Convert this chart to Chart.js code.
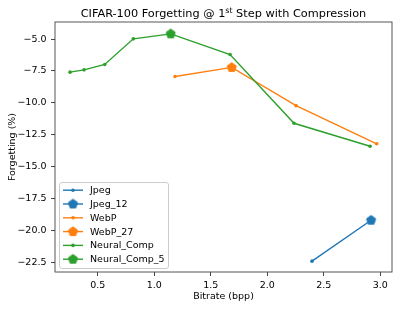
<!DOCTYPE html>
<html>
<head>
<meta charset="utf-8">
<script src="https://cdn.jsdelivr.net/npm/chart.js@4/dist/chart.umd.min.js"></script>
<style>
  html, body { margin: 0; padding: 0; background: #fff; }
  #c { display: block; }
</style>
</head>
<body>
<canvas id="c" width="399" height="309"></canvas>
<script>
// ---- data ----
const titleMain = "CIFAR-100 Forgetting @ 1";
const titleSup = "st";
const titleRest = " Step with Compression";
const xAxisLabel = "Bitrate (bpp)";
const yAxisLabel = "Forgetting (%)";

const seriesLabels = ["Jpeg", "Jpeg_12", "WebP", "WebP_27", "Neural_Comp", "Neural_Comp_5"];

const jpegX = [2.396, 2.919];
const jpegY = [-22.41, -19.20];
const jpeg12X = [2.919];
const jpeg12Y = [-19.20];

const webpX = [1.184, 1.686, 2.255, 2.969];
const webpY = [-7.93, -7.22, -10.22, -13.21];
const webp27X = [1.686];
const webp27Y = [-7.22];

const neuralX = [0.255, 0.379, 0.562, 0.815, 1.146, 1.671, 2.237, 2.910];
const neuralY = [-7.59, -7.41, -6.99, -4.98, -4.59, -6.21, -11.60, -13.40];
const neural5X = [1.146];
const neural5Y = [-4.59];

const xTicks = [0.5, 1.0, 1.5, 2.0, 2.5, 3.0];
const yTicks = [-5.0, -7.5, -10.0, -12.5, -15.0, -17.5, -20.0, -22.5];

// ---- styling ----
const FONT = "'DejaVu Sans', sans-serif";
const BLUE = "#1f77b4", ORANGE = "#ff7f0e", GREEN = "#2ca02c";

function pentagon(color, r) {
  const size = Math.ceil(2 * r + 3);
  const cv = document.createElement('canvas');
  cv.width = size; cv.height = size;
  const g = cv.getContext('2d');
  const c = size / 2;
  g.beginPath();
  for (let i = 0; i < 5; i++) {
    const a = -Math.PI / 2 + i * 2 * Math.PI / 5;
    const px = c + r * Math.cos(a), py = c + r * Math.sin(a);
    if (i === 0) g.moveTo(px, py); else g.lineTo(px, py);
  }
  g.closePath();
  g.fillStyle = color; g.fill();
  g.strokeStyle = color; g.lineWidth = 1; g.stroke();
  return cv;
}

const pts = (xs, ys) => xs.map((x, i) => ({x: x, y: ys[i]}));

function lineSet(label, xs, ys, color) {
  return { label, data: pts(xs, ys), borderColor: color, backgroundColor: color,
    showLine: true, borderWidth: 1.4, pointRadius: 1.8, pointBorderWidth: 0,
    pointHoverRadius: 1.8, pointStyle: 'circle', _marker: 'dot' };
}
function bigSet(label, xs, ys, color) {
  return { label, data: pts(xs, ys), borderColor: color, backgroundColor: color,
    showLine: false, pointRadius: 5, pointStyle: pentagon(color, 4.8), _marker: 'pent' };
}

const datasets = [
  lineSet(seriesLabels[0], jpegX, jpegY, BLUE),
  bigSet(seriesLabels[1], jpeg12X, jpeg12Y, BLUE),
  lineSet(seriesLabels[2], webpX, webpY, ORANGE),
  bigSet(seriesLabels[3], webp27X, webp27Y, ORANGE),
  lineSet(seriesLabels[4], neuralX, neuralY, GREEN),
  bigSet(seriesLabels[5], neural5X, neural5Y, GREEN),
];
datasets.forEach((d, i) => { d.order = datasets.length - i; });

const fmt = v => v.toFixed(1).replace('-', '\u2212');

const titlePlugin = {
  id: 'supTitle',
  afterDraw(chart) {
    const ctx = chart.ctx, ca = chart.chartArea;
    ctx.save();
    const big = "11.3px " + FONT, small = "7.9px " + FONT;
    ctx.font = big; const w1 = ctx.measureText(titleMain).width;
    const w3 = ctx.measureText(titleRest).width;
    ctx.font = small; const w2 = ctx.measureText(titleSup).width;
    const total = w1 + w2 + w3;
    let x = (ca.left + ca.right) / 2 - total / 2;
    const y = 17;
    ctx.fillStyle = '#000'; ctx.textBaseline = 'alphabetic'; ctx.textAlign = 'left';
    ctx.font = big; ctx.fillText(titleMain, x, y); x += w1;
    ctx.font = small; ctx.fillText(titleSup, x, y - 4.2); x += w2;
    ctx.font = big; ctx.fillText(titleRest, x, y);
    ctx.restore();
  }
};

const framePlugin = {
  id: 'frame',
  afterDatasetsDraw(chart) {
    const ctx = chart.ctx, ca = chart.chartArea;
    ctx.save();
    ctx.strokeStyle = '#444'; ctx.lineWidth = 0.9;
    ctx.strokeRect(ca.left, ca.top, ca.right - ca.left, ca.bottom - ca.top);
    ctx.restore();
  }
};

const legendPlugin = {
  id: 'mplLegend',
  afterDraw(chart) {
    const ctx = chart.ctx;
    const bx = 59, by = 182, bw = 109, bh = 86;
    ctx.save();
    ctx.beginPath();
    ctx.roundRect(bx + 0.5, by + 0.5, bw, bh, 2.5);
    ctx.fillStyle = 'rgba(255,255,255,0.8)'; ctx.fill();
    ctx.strokeStyle = '#cccccc'; ctx.lineWidth = 1; ctx.stroke();
    const ds = chart.data.datasets;
    const y0 = 190.2, step = 13.8;
    ctx.font = "9.5px " + FONT; ctx.textBaseline = 'middle'; ctx.textAlign = 'left';
    ds.forEach((d, i) => {
      const y = y0 + i * step;
      ctx.strokeStyle = d.borderColor; ctx.lineWidth = 1.4;
      ctx.beginPath(); ctx.moveTo(63, y); ctx.lineTo(83, y); ctx.stroke();
      if (d._marker === 'pent') {
        const img = d.pointStyle;
        ctx.drawImage(img, 73 - img.width / 2, y - img.height / 2);
      } else {
        ctx.fillStyle = d.borderColor;
        ctx.beginPath(); ctx.arc(73, y, 1.8, 0, Math.PI * 2); ctx.fill();
      }
      ctx.fillStyle = '#000';
      ctx.fillText(d.label, 90, y + 0.5);
    });
    ctx.restore();
  }
};

new Chart(document.getElementById('c'), {
  type: 'scatter',
  data: { datasets },
  plugins: [titlePlugin, framePlugin, legendPlugin],
  options: {
    responsive: false,
    animation: false,
    devicePixelRatio: 1,
    layout: { padding: { left: 0, right: 7, top: 22, bottom: 0 } },
    plugins: { legend: { display: false }, title: { display: false }, tooltip: { enabled: false } },
    scales: {
      x: {
        type: 'linear', min: 0.122, max: 3.104,
        afterBuildTicks: s => { s.ticks = xTicks.map(v => ({value: v})); },
        afterFit: s => { s.height = 37; },
        ticks: { callback: v => fmt(v), color: '#000', padding: 3.5, maxRotation: 0, autoSkip: false,
                 font: { family: FONT, size: 9.5 } },
        grid: { drawOnChartArea: false, drawTicks: true, tickLength: 4, tickColor: '#333', tickWidth: 0.9 },
        border: { display: false },
        title: { display: true, text: xAxisLabel, color: '#000', font: { family: FONT, size: 9.5 },
                 padding: { top: 0, bottom: 7 } }
      },
      y: {
        type: 'linear', min: -23.26, max: -3.66,
        afterBuildTicks: s => { s.ticks = yTicks.map(v => ({value: v})); },
        afterFit: s => { s.width = 55; },
        ticks: { callback: v => fmt(v), color: '#000', padding: 4.5, autoSkip: false,
                 font: { family: FONT, size: 9.5 } },
        grid: { drawOnChartArea: false, drawTicks: true, tickLength: 4, tickColor: '#333', tickWidth: 0.9 },
        border: { display: false },
        title: { display: true, text: yAxisLabel, color: '#000', font: { family: FONT, size: 9.5 },
                 padding: { top: 7, bottom: 0 } }
      }
    }
  }
});
</script>
</body>
</html>
